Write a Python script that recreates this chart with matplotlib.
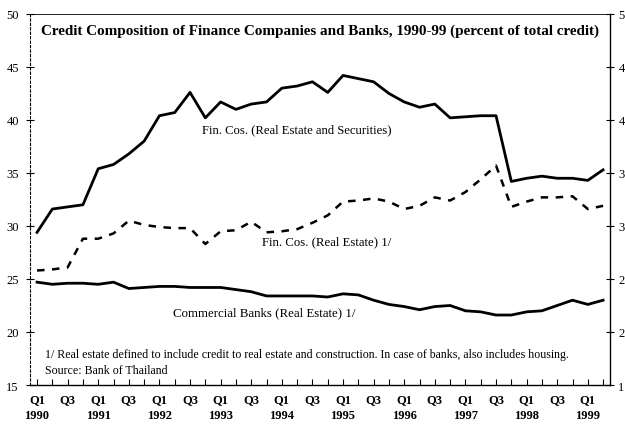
import matplotlib
matplotlib.use("Agg")
import matplotlib.pyplot as plt
import numpy as np

plt.rcParams['font.family'] = ['Liberation Serif', 'DejaVu Serif']

quarters = ["Q1 1990", "Q2 1990", "Q3 1990", "Q4 1990",
            "Q1 1991", "Q2 1991", "Q3 1991", "Q4 1991",
            "Q1 1992", "Q2 1992", "Q3 1992", "Q4 1992",
            "Q1 1993", "Q2 1993", "Q3 1993", "Q4 1993",
            "Q1 1994", "Q2 1994", "Q3 1994", "Q4 1994",
            "Q1 1995", "Q2 1995", "Q3 1995", "Q4 1995",
            "Q1 1996", "Q2 1996", "Q3 1996", "Q4 1996",
            "Q1 1997", "Q2 1997", "Q3 1997", "Q4 1997",
            "Q1 1998", "Q2 1998", "Q3 1998", "Q4 1998",
            "Q1 1999", "Q2 1999"]

fin_re_sec = [29.4, 31.6, 31.8, 32.0, 35.4, 35.8, 36.8, 38.0,
              40.4, 40.7, 42.6, 40.2, 41.7, 41.0, 41.5, 41.7,
              43.0, 43.2, 43.6, 42.6, 44.2, 43.9, 43.6, 42.5,
              41.7, 41.2, 41.5, 40.2, 40.3, 40.4, 40.4, 34.2,
              34.5, 34.7, 34.5, 34.5, 34.3, 35.3]

fin_re = [25.8, 25.9, 26.1, 28.8, 28.8, 29.3, 30.5, 30.1,
          29.9, 29.8, 29.8, 28.3, 29.5, 29.6, 30.4, 29.4,
          29.5, 29.7, 30.3, 31.0, 32.3, 32.4, 32.6, 32.3,
          31.6, 31.9, 32.7, 32.4, 33.2, 34.4, 35.7, 31.8,
          32.3, 32.7, 32.7, 32.8, 31.6, 31.9]

banks_re = [24.7, 24.5, 24.6, 24.6, 24.5, 24.7, 24.1, 24.2,
            24.3, 24.3, 24.2, 24.2, 24.2, 24.0, 23.8, 23.4,
            23.4, 23.4, 23.4, 23.3, 23.6, 23.5, 23.0, 22.6,
            22.4, 22.1, 22.4, 22.5, 22.0, 21.9, 21.6, 21.6,
            21.9, 22.0, 22.5, 23.0, 22.6, 23.0]

x_tick_labels = ["Q1\n1990", "Q3", "Q1\n1991", "Q3", "Q1\n1992", "Q3",
                 "Q1\n1993", "Q3", "Q1\n1994", "Q3", "Q1\n1995", "Q3",
                 "Q1\n1996", "Q3", "Q1\n1997", "Q3", "Q1\n1998", "Q3",
                 "Q1\n1999"]
y_ticks = [15, 20, 25, 30, 35, 40, 45, 50]
right_labels = ["1", "2", "2", "3", "3", "4", "4", "5"]

title = "Credit Composition of Finance Companies and Banks, 1990-99 (percent of total credit)"
footnote = "1/ Real estate defined to include credit to real estate and construction. In case of banks, also includes housing."
source = "Source: Bank of Thailand"

fig = plt.figure(figsize=(6.25, 4.27), dpi=100)
ax = fig.add_axes([0.048, 0.096, 0.928, 0.869])
x = np.arange(len(quarters))

ax.plot(x, fin_re_sec, color='black', lw=2.0)
ax.plot(x, fin_re, color='black', lw=1.8, linestyle=(0, (3, 3)))
ax.plot(x, banks_re, color='black', lw=2.0)

ax.set_xlim(-0.46, 37.45)
ax.set_ylim(15, 50)
ax.set_yticks(y_ticks)
ax.set_yticklabels([str(v) for v in y_ticks], fontsize=9)
ax.set_xticks(np.arange(0, 38, 2))
ax.set_xticklabels(x_tick_labels, fontsize=9, fontweight='bold', linespacing=1.45)
ax.set_xticks(x, minor=True)
ax.tick_params(axis='x', which='both', direction='in', length=4, width=0.8, pad=6)
ax.tick_params(axis='y', direction='inout', length=6, width=0.8, pad=5)

ax.spines['left'].set_linestyle((0, (2, 2)))
ax.spines['left'].set_linewidth(0.8)
ax.spines['top'].set_linewidth(0.6)
ax.spines['right'].set_linewidth(1.0)
ax.spines['bottom'].set_linewidth(1.0)

ax2 = ax.twinx()
ax2.set_ylim(15, 50)
ax2.set_yticks(y_ticks)
ax2.set_yticklabels(right_labels, fontsize=9)
ax2.tick_params(axis='y', direction='inout', length=6, width=0.8, pad=3)
for s in ax2.spines.values():
    s.set_visible(False)

ax.text(0.5, 0.955, title, transform=ax.transAxes, ha='center', va='center',
        fontsize=10.9, fontweight='bold')
ax.text(10.8, 39.1, "Fin. Cos. (Real Estate and Securities)", fontsize=9.1, ha='left', va='center')
ax.text(14.7, 28.6, "Fin. Cos. (Real Estate) 1/", fontsize=9.2, ha='left', va='center')
ax.text(8.9, 21.9, "Commercial Banks (Real Estate) 1/", fontsize=9.3, ha='left', va='center')
ax.text(0.55, 17.9, footnote, fontsize=8.6, ha='left', va='center')
ax.text(0.55, 16.4, source, fontsize=8.6, ha='left', va='center')

fig.savefig("out.png", dpi=100)
